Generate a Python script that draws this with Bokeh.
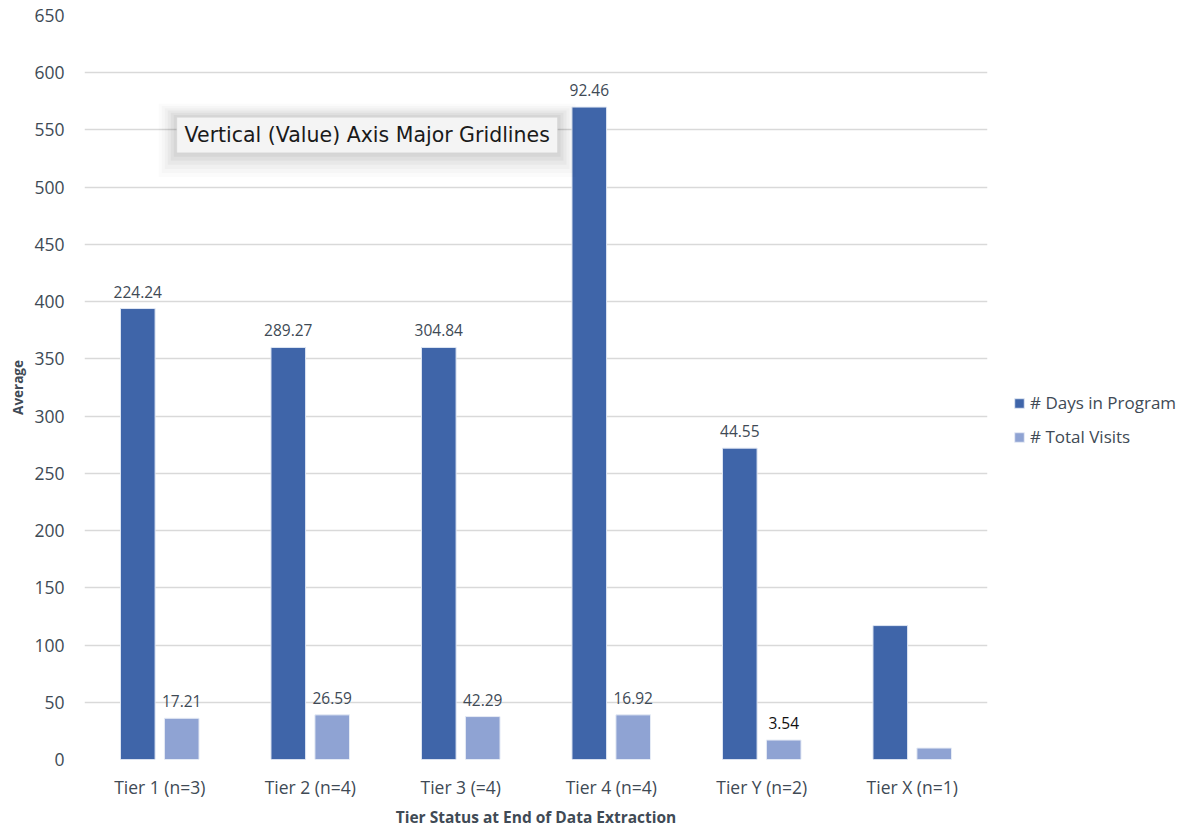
from bokeh.plotting import figure
from bokeh.models import ColumnDataSource, FactorRange, Legend, LegendItem, Label, BoxAnnotation
from bokeh.transform import dodge
from bokeh.core.properties import value
from bokeh.embed import file_html
from bokeh.resources import INLINE

# Tiers on the category axis
tiers = ["Tier 1 (n=3)", "Tier 2 (n=4)", "Tier 3 (=4)", "Tier 4 (n=4)", "Tier Y (n=2)", "Tier X (n=1)"]

# Bar heights (average)
days_in_program = [394, 360, 360, 570, 272, 117]
total_visits = [36, 39, 37.5, 39, 17, 10]

# Data labels printed above the bars
days_labels = ["224.24", "289.27", "304.84", "92.46", "44.55", ""]
visits_labels = ["17.21", "26.59", "42.29", "16.92", "3.54", ""]
visits_label_colors = ["#404a55", "#404a55", "#404a55", "#404a55", "#111111", "#404a55"]

y_ticks = list(range(0, 651, 50))

DARK = "#3f65a9"
LIGHT = "#8fa3d3"
TEXT = "#404a55"
FONT = "Open Sans"

src = ColumnDataSource(dict(
    tier=tiers,
    days=days_in_program,
    visits=total_visits,
    days_lbl=days_labels,
    visits_lbl=visits_labels,
    visits_col=visits_label_colors,
))

p = figure(
    x_range=FactorRange(*tiers, range_padding=0),
    y_range=(0, 650),
    frame_width=903, frame_height=744,
    output_backend="svg", toolbar_location=None,
    min_border_left=84, min_border_right=201,
    min_border_top=15, min_border_bottom=69,
)
p.outline_line_color = None
p.background_fill_color = "white"
p.border_fill_color = "white"

off = 0.146
bw = 0.23
r1 = p.vbar(x=dodge("tier", -off, range=p.x_range), top="days", width=bw, source=src,
            fill_color=DARK, line_color="#dfe6f3", line_width=1)
r2 = p.vbar(x=dodge("tier", off, range=p.x_range), top="visits", width=bw, source=src,
            fill_color=LIGHT, line_color="#e6ebf5", line_width=1)

p.text(x=dodge("tier", -off, range=p.x_range), y="days", text="days_lbl", source=src,
       y_offset=-11, text_align="center", text_baseline="bottom",
       text_font=value(FONT), text_font_size="15.5px", text_color=TEXT)
p.text(x=dodge("tier", off, range=p.x_range), y="visits", text="visits_lbl", source=src,
       y_offset=-11, text_align="center", text_baseline="bottom",
       text_font=value(FONT), text_font_size="15.5px", text_color="visits_col")

# Axes
p.yaxis.ticker = y_ticks
p.yaxis.axis_line_color = None
p.yaxis.major_tick_line_color = None
p.yaxis.minor_tick_line_color = None
p.yaxis.major_label_text_font = FONT
p.yaxis.major_label_text_font_size = "17.5px"
p.yaxis.major_label_text_color = TEXT
p.yaxis.major_label_standoff = 14
p.yaxis.axis_label = "Average"
p.yaxis.axis_label_text_font = FONT
p.yaxis.axis_label_text_font_size = "13.5px"
p.yaxis.axis_label_text_font_style = "bold"
p.yaxis.axis_label_text_color = TEXT
p.yaxis.axis_label_standoff = 4

p.xaxis.axis_line_color = None
p.xaxis.major_tick_line_color = None
p.xaxis.minor_tick_line_color = None
p.xaxis.major_label_text_font = FONT
p.xaxis.major_label_text_font_size = "17.5px"
p.xaxis.major_label_text_color = TEXT
p.xaxis.major_label_standoff = 9
p.xaxis.axis_label = "Tier Status at End of Data Extraction"
p.xaxis.axis_label_text_font = FONT
p.xaxis.axis_label_text_font_size = "15.5px"
p.xaxis.axis_label_text_font_style = "bold"
p.xaxis.axis_label_text_color = TEXT
p.xaxis.axis_label_standoff = 4

p.xgrid.grid_line_color = None
p.ygrid.grid_line_color = "#d9d9d9"
p.ygrid.grid_line_width = 1.5

# Legend in the right-hand panel
legend = Legend(items=[
    LegendItem(label="# Days in Program", renderers=[r1]),
    LegendItem(label="# Total Visits", renderers=[r2]),
], location=(26, 311))
legend.glyph_width = 12
legend.glyph_height = 12
legend.label_text_font = FONT
legend.label_text_font_size = "17px"
legend.label_text_color = TEXT
legend.label_standoff = 5
legend.spacing = 11
legend.padding = 0
legend.margin = 0
legend.background_fill_alpha = 0
legend.border_line_color = None
p.add_layout(legend, "right")

# Hover hint box with a soft shadow
for i, a in enumerate([0.015, 0.02, 0.025, 0.03, 0.035, 0.04]):
    g = 6 - i
    p.add_layout(BoxAnnotation(left=0.613 - 0.02 * g, right=3.143 + 0.02 * g,
                               bottom=530 - 3.5 * g, top=561 + 2.0 * g,
                               fill_color="black", fill_alpha=a, line_color=None,
                               level="overlay"))
p.add_layout(BoxAnnotation(left=0.613, right=3.143, bottom=530, top=561,
                           fill_color="#f4f4f4", fill_alpha=1,
                           line_color="#c9c9c9", line_width=1, level="overlay"))
p.add_layout(Label(x=0.665, y=545.5, text="Vertical (Value) Axis Major Gridlines",
                   text_font="DejaVu Sans", text_font_size="20.5px",
                   text_color="#1a1a1a", text_baseline="middle", level="overlay"))

open("out.html", "w").write(file_html(p, INLINE))
